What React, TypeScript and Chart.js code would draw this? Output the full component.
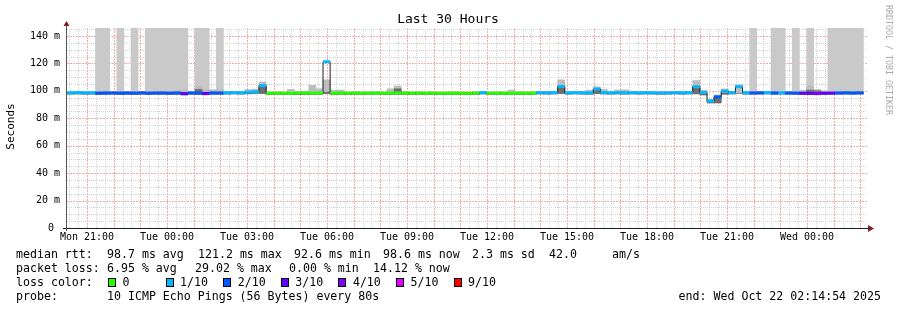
import React, { useEffect, useRef } from "react";
import { Chart, registerables } from "chart.js";

Chart.register(...registerables);

// ---------- time axis (minutes since Mon 20:14:54) ----------
const RANGE_MINUTES = 1800;
const BIN_MINUTES = 16;
const FIRST_GRID_MIN = 5.1; // 20:20:00
const TIME_LABELS = [
  "Mon 21:00", "Tue 00:00", "Tue 03:00", "Tue 06:00", "Tue 09:00",
  "Tue 12:00", "Tue 15:00", "Tue 18:00", "Tue 21:00", "Wed 00:00",
];
const Y_MAX = 145.8;

// ---------- data (ms), one value per 16-minute bin ----------
const median = [
  98.6, 98.7, 98.6, 98.6, 98.4, 98.5, 98.5, 98.4,
  98.5, 98.4, 98.6, 98.4, 98.5, 98.5, 98.4, 98.5,
  98.0, 98.5, 98.4, 98.1, 98.5, 98.5, 98.6, 98.7,
  98.6, 99.0, 99.3, 103.8, 98.3, 98.4, 98.3, 98.2,
  98.4, 98.4, 98.3, 98.4, 121.2, 98.3, 98.4, 98.3,
  98.4, 98.3, 98.4, 98.5, 98.3, 98.4, 98.5, 98.4,
  98.3, 98.4, 98.3, 98.4, 98.2, 98.3, 98.4, 98.3,
  98.2, 98.4, 98.7, 98.3, 98.4, 98.3, 98.2, 98.4,
  98.3, 98.4, 98.7, 98.6, 98.7, 103.2, 98.6, 98.7,
  98.6, 98.5, 101.3, 98.7, 98.6, 98.7, 98.6, 98.7,
  98.6, 98.7, 98.6, 98.5, 98.6, 98.7, 98.6, 98.7,
  103.0, 98.8, 92.6, 95.6, 99.8, 98.7, 103.0, 98.6,
  98.5, 98.6, 98.7, 98.5, 98.6, 98.5, 98.4, 98.3,
  98.2, 98.1, 98.3, 98.4, 98.5, 98.6, 98.5, 98.6,
];

// lost pings out of 10 per bin (drives the median colour)
const lossTenths = [
  1, 1, 1, 1, 2, 2, 2, 2,
  2, 2, 2, 2, 2, 2, 2, 2,
  3, 2, 2, 3, 2, 2, 1, 1,
  1, 1, 1, 1, 0, 0, 0, 0,
  0, 0, 0, 0, 1, 0, 0, 0,
  0, 0, 0, 0, 0, 0, 0, 0,
  0, 0, 0, 0, 0, 0, 0, 0,
  0, 0, 1, 0, 0, 0, 0, 0,
  0, 0, 1, 1, 1, 1, 1, 1,
  1, 1, 1, 1, 1, 1, 1, 1,
  1, 1, 1, 1, 1, 1, 1, 1,
  1, 1, 1, 2, 1, 1, 1, 1,
  2, 2, 1, 2, 1, 2, 2, 3,
  3, 4, 3, 3, 2, 2, 2, 2,
];

// smoke (spread of the pings)
const smokeLo = [
  97.6, 97.7, 97.5, 97.6, 97.3, 97.4, 97.5, 97.3,
  97.4, 97.3, 97.5, 97.3, 97.4, 97.4, 97.3, 97.4,
  97.0, 97.4, 97.3, 97.1, 97.4, 97.4, 97.6, 97.7,
  97.6, 97.8, 98.0, 98.0, 97.3, 97.4, 97.3, 97.2,
  97.2, 97.3, 97.3, 97.4, 98.0, 97.3, 97.4, 97.3,
  97.4, 97.3, 97.4, 97.5, 97.3, 97.4, 97.5, 97.4,
  97.3, 97.4, 97.3, 97.4, 97.2, 97.3, 97.4, 97.3,
  97.2, 97.4, 97.7, 97.3, 97.4, 97.3, 97.2, 97.4,
  97.3, 97.4, 97.7, 97.6, 97.7, 98.0, 97.6, 97.7,
  97.6, 97.5, 98.0, 97.7, 97.6, 97.7, 97.6, 97.7,
  97.6, 97.7, 97.6, 97.5, 97.6, 97.7, 97.6, 97.7,
  97.8, 97.0, 91.2, 91.2, 97.5, 97.7, 98.0, 97.6,
  97.5, 97.6, 97.7, 97.5, 97.6, 97.5, 97.4, 97.3,
  97.2, 97.1, 97.3, 97.4, 97.5, 97.6, 97.5, 97.6,
];
const smokeHi = [
  99.2, 99.3, 99.2, 99.2, 99.0, 99.1, 99.1, 99.0,
  99.1, 99.0, 99.2, 99.0, 99.1, 99.1, 99.0, 100.0,
  100.5, 99.1, 103.5, 100.8, 100.8, 100.6, 99.2, 99.3,
  99.2, 101.0, 101.2, 106.5, 99.0, 99.1, 99.0, 101.0,
  99.8, 99.8, 104.0, 101.5, 108.0, 100.5, 100.5, 99.0,
  99.1, 99.0, 99.1, 99.2, 99.0, 101.5, 103.5, 99.5,
  99.0, 99.1, 99.0, 99.1, 98.9, 99.0, 99.1, 99.0,
  98.9, 99.1, 99.3, 99.0, 99.1, 99.0, 100.6, 99.1,
  99.0, 99.1, 99.3, 99.2, 99.3, 108.0, 99.2, 99.3,
  99.2, 100.5, 103.0, 101.0, 99.2, 100.7, 100.7, 99.3,
  99.2, 99.3, 99.2, 99.1, 99.2, 99.3, 99.2, 99.3,
  107.5, 100.5, 94.0, 97.0, 101.4, 99.3, 104.5, 99.2,
  99.1, 99.2, 99.3, 99.1, 99.2, 99.1, 99.0, 100.5,
  103.5, 101.0, 100.0, 99.0, 99.1, 99.2, 99.1, 99.2,
];
// top of the dark core of the smoke
const coreHi = [
  98.6, 98.7, 98.6, 98.6, 98.4, 98.5, 98.5, 98.4,
  98.5, 98.4, 98.6, 98.4, 98.5, 98.5, 98.4, 98.5,
  98.0, 98.5, 101.0, 98.1, 98.5, 98.5, 98.6, 98.7,
  98.6, 99.0, 99.3, 103.8, 98.3, 98.4, 98.3, 98.2,
  98.4, 98.4, 98.3, 98.4, 99.0, 98.3, 98.4, 98.3,
  98.4, 98.3, 98.4, 98.5, 98.3, 98.4, 101.5, 98.4,
  98.3, 98.4, 98.3, 98.4, 98.2, 98.3, 98.4, 98.3,
  98.2, 98.4, 98.7, 98.3, 98.4, 98.3, 98.2, 98.4,
  98.3, 98.4, 98.7, 98.6, 98.7, 103.2, 98.6, 98.7,
  98.6, 98.5, 101.3, 98.7, 98.6, 98.7, 98.6, 98.7,
  98.6, 98.7, 98.6, 98.5, 98.6, 98.7, 98.6, 98.7,
  103.0, 98.8, 92.6, 95.6, 98.5, 98.7, 98.0, 98.6,
  98.5, 98.6, 98.7, 98.5, 98.6, 98.5, 98.4, 98.3,
  100.5, 100.0, 98.3, 98.4, 98.5, 98.6, 98.5, 98.6,
];
// bins where lost pings draw smoke to the top
const lostBins = [4, 5, 7, 9, 11, 12, 13, 14, 15, 16, 18, 19, 21, 96, 99, 100, 102, 104, 107, 108, 109, 110, 111];

const LOSS_LEGEND = ["0", "1/10", "2/10", "3/10", "4/10", "5/10", "9/10"];
const LOSS_TENTHS = [0, 1, 2, 3, 4, 5, 9];
const LOSS_COLORS: Record<number, string> = {
  0: "#26ff00", 1: "#00b8ff", 2: "#0059ff", 3: "#5e00ff", 4: "#7e00ff", 5: "#dd00ff", 9: "#ff0000",
};

const LINE1: [number, string][] = [
  [16, "median rtt:"], [107, "98.7 ms avg"], [198, "121.2 ms max"], [294, "92.6 ms min"],
  [383, "98.6 ms now"], [472, "2.3 ms sd"], [549, "42.0"], [612, "am/s"],
];
const LINE2: [number, string][] = [
  [16, "packet loss:"], [107, "6.95 % avg"], [195, "29.02 % max"], [289, "0.00 % min"], [373, "14.12 % now"],
];
const PROBE_TEXT = "10 ICMP Echo Pings (56 Bytes) every 80s";
const END_TEXT = "end: Wed Oct 22 02:14:54 2025";

const MONO = '"DejaVu Sans Mono", monospace';
const MINOR_GRID = "#d2d2d2";
const MAJOR_GRID = "rgb(246,170,170)";

const gridPlugin = {
  id: "rrdgrid",
  beforeDatasetsDraw(chart: any) {
    const ctx = chart.ctx as CanvasRenderingContext2D;
    const { left, right, bottom, top } = chart.chartArea;
    const xs = chart.scales.x;
    const ys = chart.scales.y;
    ctx.save();
    ctx.lineWidth = 1;
    const vLines: { x: number; major: boolean }[] = [];
    for (let j = 0; FIRST_GRID_MIN + 20 * j <= RANGE_MINUTES; j++) {
      vLines.push({ x: Math.round(xs.getPixelForValue(FIRST_GRID_MIN + 20 * j)) + 0.5, major: j % 3 === 2 });
    }
    const hLines: { y: number; major: boolean }[] = [];
    for (let v = 5; v <= 145; v += 5) {
      hLines.push({ y: Math.round(ys.getPixelForValue(v)) + 0.5, major: v % 20 === 0 });
    }
    const drawSet = (major: boolean) => {
      ctx.strokeStyle = major ? MAJOR_GRID : MINOR_GRID;
      ctx.setLineDash(major ? [2, 1] : [1, 1]);
      hLines.filter((h) => h.major === major).forEach((h) => {
        ctx.beginPath();
        ctx.moveTo(left, h.y);
        ctx.lineTo(right, h.y);
        ctx.stroke();
      });
      vLines.filter((l) => l.major === major).forEach((l) => {
        ctx.beginPath();
        ctx.moveTo(l.x, bottom);
        ctx.lineTo(l.x, top);
        ctx.stroke();
      });
    };
    drawSet(false);
    drawSet(true);
    ctx.restore();
  },
};

const decorPlugin = {
  id: "decor",
  afterDraw(chart: any) {
    const ctx = chart.ctx as CanvasRenderingContext2D;
    const { left, right, bottom, top } = chart.chartArea;
    ctx.save();
    // axes
    ctx.strokeStyle = "#1f1f1f";
    ctx.lineWidth = 1;
    ctx.beginPath();
    ctx.moveTo(left - 4, bottom + 0.5);
    ctx.lineTo(right + 3, bottom + 0.5);
    ctx.stroke();
    ctx.strokeStyle = "#555";
    ctx.beginPath();
    ctx.moveTo(left - 0.5, bottom + 3);
    ctx.lineTo(left - 0.5, top - 3);
    ctx.stroke();
    // arrows
    ctx.fillStyle = "rgb(128,31,31)";
    ctx.beginPath();
    ctx.moveTo(right + 1, bottom - 3);
    ctx.lineTo(right + 7, bottom + 0.5);
    ctx.lineTo(right + 1, bottom + 4);
    ctx.closePath();
    ctx.fill();
    ctx.beginPath();
    ctx.moveTo(left - 3.5, top - 2);
    ctx.lineTo(left - 0.5, top - 7);
    ctx.lineTo(left + 2.5, top - 2);
    ctx.closePath();
    ctx.fill();

    // title
    ctx.fillStyle = "#000";
    ctx.textBaseline = "middle";
    ctx.textAlign = "center";
    ctx.font = `13px ${MONO}`;
    ctx.fillText("Last 30 Hours", 448, 19.5);

    // y title
    ctx.save();
    ctx.translate(11, 126.5);
    ctx.rotate(-Math.PI / 2);
    ctx.font = `11px ${MONO}`;
    ctx.fillText("Seconds", 0, 0);
    ctx.restore();

    // watermark
    ctx.save();
    ctx.translate(888, 60);
    ctx.rotate(Math.PI / 2);
    ctx.font = `8.3px ${MONO}`;
    ctx.fillStyle = "#aaaaaa";
    ctx.fillText("RRDTOOL / TOBI OETIKER", 0, 0);
    ctx.restore();

    // legend
    ctx.font = `11.6px ${MONO}`;
    ctx.textAlign = "left";
    ctx.fillStyle = "#000";
    LINE1.forEach(([x, t]) => ctx.fillText(t, x, 254.5));
    LINE2.forEach(([x, t]) => ctx.fillText(t, x, 268.5));
    ctx.fillText("loss color:", 16, 282.5);
    LOSS_LEGEND.forEach((lab, i) => {
      const bx = 108 + i * 57.6;
      ctx.fillStyle = LOSS_COLORS[LOSS_TENTHS[i]];
      ctx.fillRect(Math.round(bx), 278, 8, 9);
      ctx.strokeStyle = "#000";
      ctx.strokeRect(Math.round(bx) + 0.5, 278.5, 7, 8);
      ctx.fillStyle = "#000";
      ctx.fillText(lab, bx + 14.5, 282.5);
    });
    ctx.fillText("probe:", 16, 296.5);
    ctx.fillText(PROBE_TEXT, 107, 296.5);
    ctx.textAlign = "right";
    ctx.fillText(END_TEXT, 881, 296.5);
    ctx.restore();
  },
};

export default function App() {
  const ref = useRef<HTMLCanvasElement | null>(null);
  useEffect(() => {
    const canvas = ref.current;
    if (!canvas) return;
    const center = (k: number) => k * BIN_MINUTES + BIN_MINUTES / 2;
    const lostData = lostBins.map((k) => ({ x: center(k), y: [median[k], Y_MAX] }));
    const smokeData = median.map((_, k) => ({ x: center(k), y: [smokeLo[k], smokeHi[k]] }));
    const coreData = median.map((_, k) => ({ x: center(k), y: [smokeLo[k], coreHi[k]] }));
    const stepData = median.map((m, k) => ({ x: k * BIN_MINUTES, y: m }));
    stepData.push({ x: median.length * BIN_MINUTES, y: median[median.length - 1] });
    const colorData: { x: number; y: number | null }[] = [];
    median.forEach((m, k) => {
      colorData.push({ x: k * BIN_MINUTES, y: m });
      colorData.push({ x: (k + 1) * BIN_MINUTES, y: m });
      colorData.push({ x: (k + 1) * BIN_MINUTES, y: null });
    });

    const labelTicks = TIME_LABELS.map((_, n) => FIRST_GRID_MIN + 40 + 180 * n);
    const yTicks: number[] = [];
    for (let v = 0; v <= 140; v += 20) yTicks.push(v);

    const barCommon = { grouped: false, barPercentage: 1, categoryPercentage: 1, borderWidth: 0 };
    const chart = new Chart(canvas, {
      type: "bar",
      data: {
        datasets: [
          { ...barCommon, type: "bar", data: lostData as any, backgroundColor: "#c9c9c9", order: 4 } as any,
          { ...barCommon, type: "bar", data: smokeData as any, backgroundColor: "#bdbdbd", order: 3 } as any,
          { ...barCommon, type: "bar", data: coreData as any, backgroundColor: "#6e6e6e", order: 2 } as any,
          {
            type: "line", data: stepData as any, stepped: true, borderColor: "#202020", borderWidth: 1,
            pointRadius: 0, order: 1,
          } as any,
          {
            type: "line", data: colorData as any, borderWidth: 3, pointRadius: 0, spanGaps: false,
            borderCapStyle: "butt", borderColor: "#00b8ff", order: 0,
            segment: { borderColor: (c: any) => LOSS_COLORS[lossTenths[Math.floor(c.p0DataIndex / 3)]] },
          } as any,
        ],
      },
      options: {
        animation: false,
        responsive: false,
        devicePixelRatio: 1,
        layout: { padding: { top: 28, right: 30, left: 0, bottom: 0 } },
        plugins: { legend: { display: false }, tooltip: { enabled: false } },
        scales: {
          x: {
            type: "linear",
            min: 0,
            max: RANGE_MINUTES,
            offset: false,
            afterBuildTicks: (s: any) => { s.ticks = labelTicks.map((v) => ({ value: v })); },
            afterFit: (s: any) => { s.height = 82; },
            ticks: {
              autoSkip: false, maxRotation: 0, minRotation: 0, padding: 3, color: "#000",
              font: { family: MONO, size: 10 },
              callback: (_v: any, i: number) => TIME_LABELS[i] ?? "",
            },
            grid: { display: false, drawTicks: false },
            border: { display: false },
          },
          y: {
            type: "linear",
            min: 0,
            max: Y_MAX,
            afterBuildTicks: (s: any) => { s.ticks = yTicks.map((v) => ({ value: v })); },
            afterFit: (s: any) => { s.width = 67; },
            ticks: {
              autoSkip: false, padding: 7, color: "#000",
              font: { family: MONO, size: 10 },
              callback: (v: any) => (v === 0 ? "0 " : `${v} m`),
            },
            grid: { display: false, drawTicks: false },
            border: { display: false },
          },
        },
      } as any,
      plugins: [gridPlugin, decorPlugin],
    });
    return () => chart.destroy();
  }, []);
  return (
    <div style={{ position: "fixed", left: 0, top: 0, width: 897, height: 310, background: "#fff" }}>
      <canvas ref={ref} width={897} height={310} style={{ display: "block" }} />
    </div>
  );
}
